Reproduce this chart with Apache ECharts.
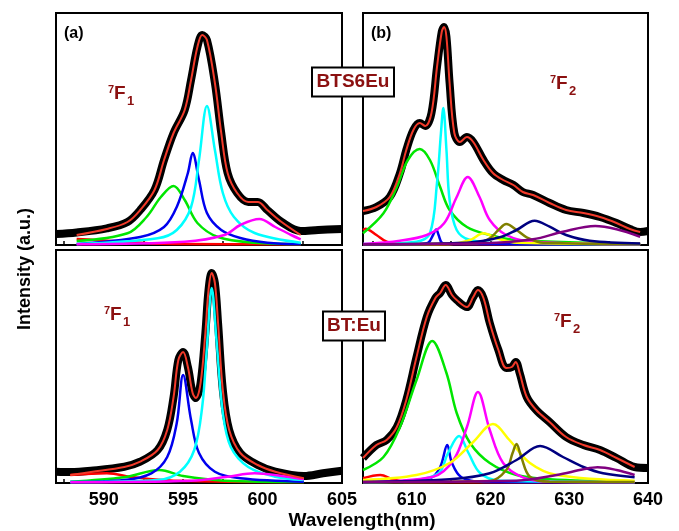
<!DOCTYPE html>
<html>
<head>
<meta charset="utf-8">
<script src="https://cdn.jsdelivr.net/npm/echarts@6/dist/echarts.min.js"></script>
<style>
  html, body { margin: 0; padding: 0; background: #fff; }
  #chart { width: 679px; height: 531px; }
</style>
</head>
<body>
<div id="chart"></div>
<script>
// tick labels
const leftTicks = [590, 595, 600, 605]
const rightTicks = [610, 620, 630, 640]
const leftMinor = [587.5, 590, 592.5, 595, 597.5, 600, 602.5]
const rightMinor = [605, 610, 615, 620, 625, 630, 635]

// (a) BTS6Eu 7F1  [wavelength, intensity]
const tlData = [[587,11],[588.3,12.5],[590.2,16.7],[591.5,23],[592.3,35],[593.2,55],[593.8,85],[594.4,112],[595.1,135],[595.5,165],[595.9,198],[596.2,210],[596.5,205],[597,162],[597.4,112],[597.8,72],[598.4,52],[599.1,43],[599.7,43],[600.3,35],[601.2,23],[602.4,14],[603.5,15],[605,16]]
const tlFit = [[588.3,10],[590.2,16],[591.5,23],[592.3,35],[593.2,55],[593.8,85],[594.4,112],[595.1,135],[595.5,165],[595.9,198],[596.2,210],[596.5,205],[597,162],[597.4,112],[597.8,72],[598.4,52],[599.1,43],[599.7,43],[600.3,35],[601.2,23],[602.4,10]]
const tlRed = [[588.3,6],[589.5,5],[591.5,3],[593,1.5],[595,1],[602.4,0.8]]
const tlGreen = [[588.3,4],[591.5,11.7],[592.7,28],[593.6,48],[594.4,59],[595.1,45],[595.9,22],[597.2,8],[599.5,2.3],[602.4,1]]
const tlBlue = [[588.3,1],[592.3,8],[593.8,18],[594.6,38],[595.3,72],[595.6,92],[596,65],[596.5,32],[597.4,15],[598.6,7],[600.3,2.3],[602.4,1]]
const tlCyan = [[588.3,1],[593.4,6.7],[594.6,15],[595.5,38],[596,85],[596.5,139],[597,95],[597.5,52],[598.2,28],[599.5,12],[602.4,2.3]]
const tlMagenta = [[588.3,0.8],[595.1,3.3],[597.6,10],[598.6,20],[599.8,26],[600.8,18],[601.8,10],[602.4,5.7]]

// (b) BTS6Eu 7F2
const trData = [[603.8,34],[605.5,38],[607.2,48],[608.5,72],[609.3,95],[610.2,115],[611,122],[611.7,119],[612.5,132],[613.2,178],[613.8,213],[614.1,218],[614.4,208],[614.8,162],[615.4,112],[616.1,103],[617,108],[617.8,103],[619.1,85],[620.3,72],[621.6,65],[622.9,60],[624.1,53],[625.4,50],[627.5,42],[629.6,35],[631.8,32],[633.9,28],[636,22],[637.7,16],[639,13],[640,14]]
const trFit = [[603.8,34],[605.5,38],[607.2,48],[608.5,72],[609.3,95],[610.2,115],[611,122],[611.7,119],[612.5,132],[613.2,178],[613.8,213],[614.1,218],[614.4,208],[614.8,162],[615.4,112],[616.1,103],[617,108],[617.8,103],[619.1,85],[620.3,72],[621.6,65],[622.9,60],[624.1,53],[625.4,50],[627.5,42],[629.6,35],[631.8,32],[633.9,28],[636,22],[637.7,16],[639,13]]
const trRed = [[603.8,15],[604.1,16.3],[605.5,10],[606.8,3.3],[608.5,1],[639,0.8]]
const trGreen = [[603.8,11.7],[606.4,31.7],[608.1,58],[609.5,85],[611,96],[612.3,85],[613.6,58],[614.8,35],[617,18],[619.9,10],[623.3,5],[639,1]]
const trCyan = [[603.8,1],[610.6,3.3],[612.3,11.7],[613.2,62],[613.7,112],[614,137],[614.4,95],[614.8,45],[615.7,15],[617.4,5],[623.3,1],[639,0.8]]
const trBlue = [[603.8,0.8],[611,1],[612.1,2.3],[612.7,10],[613.1,15.5],[613.4,10],[613.8,2.3],[614.5,1],[639,0.8]]
const trMagenta = [[603.8,1],[608.5,4.3],[611.9,10],[614.1,21.7],[615.7,48],[617.1,68],[618.6,48],[619.9,25],[622,10],[625.4,3.3],[639,1]]
const trYellow = [[603.8,0.8],[614.8,1],[617.4,5],[619.1,11.7],[620.8,6.7],[623.3,2.3],[639,1]]
const trOlive = [[603.8,0.8],[618.2,1.7],[619.9,6.7],[621,15],[622,21],[623.3,15],[624.6,7.7],[626.7,2.3],[639,1]]
const trNavy = [[603.8,0.8],[617,2.3],[621.2,7.7],[623.3,15],[625.6,24.3],[627.5,18.3],[629.6,10],[632.6,4.3],[639,1.5]]
const trPurple = [[603.8,0.8],[619.1,1.7],[625.4,5.7],[629.2,13.3],[633.3,19],[636,15.7],[639,8.3]]

// BT:Eu 7F1
const blData = [[587,11.3],[587.9,11],[589.2,12.3],[591.3,16.3],[592.3,21.3],[593.4,33],[594,53],[594.4,86],[594.7,123],[595,131],[595.3,116],[595.6,90],[595.8,85],[596.1,100],[596.4,150],[596.6,193],[596.8,210],[597,200],[597.2,160],[597.5,93],[597.9,53],[598.6,30],[599.7,18],[600.8,11.3],[602.6,7],[603.8,9.7],[605,12.3]]
const blFit = [[587.9,8],[589.2,11],[591.3,16],[592.3,21.3],[593.4,33],[594,53],[594.4,86],[594.7,123],[595,131],[595.3,116],[595.6,90],[595.8,85],[596.1,100],[596.4,150],[596.6,193],[596.8,210],[597,200],[597.2,160],[597.5,93],[597.9,53],[598.6,30],[599.7,18],[600.8,11.3],[602.6,4.7]]
const blRed = [[587.9,8],[590.2,9.7],[591.9,5.7],[594.4,2.3],[602.6,1]]
const blGreen = [[587.9,1.3],[591.3,5.7],[593.5,13],[595,7],[597.6,2.3],[602.6,1]]
const blBlue = [[587.9,1],[591.3,3],[593,9.7],[594,26],[594.6,60],[595,108],[595.5,63],[596,30],[597,11.3],[598.6,4.7],[602.6,1.3]]
const blCyan = [[587.9,1],[593.4,3],[594.8,11.3],[595.7,33],[596.2,76],[596.5,136],[596.8,195],[597.1,143],[597.5,70],[598,36],[599.1,16],[600.8,6.3],[602.6,3]]
const blMagenta = [[587.9,0.8],[595.5,2.3],[597.8,6.3],[599.5,9.7],[601.2,7],[602.6,3.7]]

// BT:Eu 7F2
const brData = [[603.8,25],[605.5,38],[606.8,43],[608.1,56],[609.3,83],[610.6,126],[611.9,166],[613,185],[613.6,190],[614.3,198],[615.1,188],[615.7,183],[617,176],[617.8,186],[618.4,193],[619.1,185],[619.9,160],[621,133],[622,115],[622.7,116],[623.2,121],[623.7,110],[624.6,86],[625.8,73],[627.5,61],[629.6,46],[631.8,38],[633.9,33],[636,25],[638.3,16],[640,15]]
const brFit = [[603.8,25],[605.5,38],[606.8,43],[608.1,56],[609.3,83],[610.6,126],[611.9,166],[613,185],[613.6,190],[614.3,198],[615.1,188],[615.7,183],[617,176],[617.8,186],[618.4,193],[619.1,185],[619.9,160],[621,133],[622,115],[622.7,116],[623.2,121],[623.7,110],[624.6,86],[625.8,73],[627.5,61],[629.6,46],[631.8,38],[633.9,33],[636,25],[638.3,16]]
const brRed = [[603.8,4.7],[606,8],[607.6,3.7],[609.3,1],[638.3,0.8]]
const brGreen = [[603.8,13],[606.4,26],[608.5,56],[610.6,103],[612.6,142],[614.4,110],[615.7,70],[617.4,40],[619.9,20],[623.3,8],[627.5,3.7],[638.3,1]]
const brBlue = [[603.8,0.8],[612.3,4.7],[613.6,16],[614.5,38],[615.1,20],[616.3,5.7],[619.1,1],[638.3,0.8]]
const brCyan = [[603.8,0.8],[610.6,3],[613.4,9.7],[614.6,30],[616,47],[617.2,30],[618.7,9.7],[621.2,2.3],[638.3,1]]
const brMagenta = [[603.8,1],[612.7,6.3],[615.3,23],[617,56],[618.4,91],[619.9,53],[621.6,20],[624.1,5.7],[627.5,1.3],[638.3,1]]
const brYellow = [[603.8,3],[610.6,8],[614.8,20],[617.8,41],[620.3,59],[622.4,43],[625,20],[628.4,8],[638.3,2.3]]
const brOlive = [[603.8,0.8],[619.9,2],[622,13],[622.8,30],[623.3,39],[623.9,26],[625,6.3],[627.5,1.3],[638.3,1]]
const brNavy = [[603.8,1],[614.8,3.7],[619.9,9.7],[623.3,23],[626.3,37],[629.2,26],[631.8,16],[634.3,9.7],[638.3,5.7]]
const brPurple = [[603.8,1],[623.3,2.3],[628.4,8],[631.8,13.7],[633.6,15.7],[636,13],[638.3,8]]

const COL = {
  red: '#ff0000', green: '#00e600', blue: '#0000ee', cyan: '#00ffff',
  magenta: '#ff00ff', yellow: '#ffff00', olive: '#808000', navy: '#000080', purple: '#800080'
}
const FONT = '"Liberation Sans", Arial, sans-serif'
const DARKRED = '#8b1010'

const myChart = echarts.init(document.getElementById('chart'))

const grids = [
  { left: 56, top: 13, width: 286, height: 232 },
  { left: 363, top: 13, width: 285, height: 232 },
  { left: 56, top: 250, width: 286, height: 233 },
  { left: 363, top: 250, width: 285, height: 233 }
].map(g => Object.assign(g, { show: true, borderColor: '#000', borderWidth: 2, backgroundColor: '#fff' }))

function xAxis (idx, left, showLabel) {
  return {
    type: 'value', gridIndex: idx,
    min: left ? 587 : 603.8, max: left ? 605 : 640,
    axisLine: { show: false },
    splitLine: { show: false },
    axisTick: { show: true, inside: true, length: 4, lineStyle: { color: '#000', width: 1.5 },
      customValues: left ? leftMinor : rightMinor },
    axisLabel: { show: showLabel, customValues: left ? leftTicks : rightTicks, margin: 8,
      fontFamily: FONT, fontWeight: 'bold', fontSize: 18, color: '#000' }
  }
}
function yAxis (idx, max) {
  return { type: 'value', gridIndex: idx, min: 0, max: max, show: false }
}

function line (idx, data, color, width) {
  return {
    type: 'line', xAxisIndex: idx, yAxisIndex: idx, data: data,
    showSymbol: false, symbol: 'none', smooth: 0.35, clip: true, silent: true,
    lineStyle: { color: color, width: width }
  }
}

const panels = [
  { data: tlData, fit: tlFit, comps: [[tlRed, 'red'], [tlGreen, 'green'], [tlBlue, 'blue'], [tlCyan, 'cyan'], [tlMagenta, 'magenta']] },
  { data: trData, fit: trFit, comps: [[trRed, 'red'], [trGreen, 'green'], [trCyan, 'cyan'], [trBlue, 'blue'], [trMagenta, 'magenta'], [trYellow, 'yellow'], [trOlive, 'olive'], [trNavy, 'navy'], [trPurple, 'purple']] },
  { data: blData, fit: blFit, comps: [[blRed, 'red'], [blGreen, 'green'], [blBlue, 'blue'], [blCyan, 'cyan'], [blMagenta, 'magenta']] },
  { data: brData, fit: brFit, comps: [[brRed, 'red'], [brGreen, 'green'], [brBlue, 'blue'], [brCyan, 'cyan'], [brMagenta, 'magenta'], [brYellow, 'yellow'], [brOlive, 'olive'], [brNavy, 'navy'], [brPurple, 'purple']] }
]

const series = []
panels.forEach((p, i) => {
  series.push(line(i, p.data, '#000', 8))
  p.comps.forEach(c => series.push(line(i, c[0], COL[c[1]], 2.5)))
  series.push(line(i, p.fit, '#f23a2a', 2))
})

function txt (x, y, s, size, color, extra) {
  return Object.assign({
    type: 'text', x: x, y: y, z: 100,
    style: { text: s, fontFamily: FONT, fontWeight: 'bold', fontSize: size, fill: color, verticalAlign: 'top' }
  }, extra || {})
}
// 7F_J term symbol, y = top of the F line box
function term (x, y, sub) {
  return [
    txt(x, y, '7', 11, DARKRED),
    txt(x + 6, y, 'F', 19, DARKRED),
    txt(x + 19, y + 11, sub, 13, DARKRED)
  ]
}
function badge (cx, cy, w, h, s) {
  return [
    { type: 'rect', z: 99, shape: { x: cx - w / 2, y: cy - h / 2, width: w, height: h },
      style: { fill: '#fff', stroke: '#000', lineWidth: 2 } },
    txt(cx, cy, s, 19, DARKRED, { style: { text: s, fontFamily: FONT, fontWeight: 'bold', fontSize: 19, fill: DARKRED, align: 'center', verticalAlign: 'middle' } })
  ]
}

const graphic = [].concat(
  txt(64, 26, '(a)', 16, '#000'),
  txt(371, 26, '(b)', 16, '#000'),
  term(108, 84, '1'),
  term(104, 305, '1'),
  term(550, 74, '2'),
  term(554, 312, '2'),
  badge(353, 82, 82, 29, 'BTS6Eu'),
  badge(354, 326, 62, 29, 'BT:Eu'),
  txt(362, 521, 'Wavelength(nm)', 19, '#000', { style: { text: 'Wavelength(nm)', fontFamily: FONT, fontWeight: 'bold', fontSize: 19, fill: '#000', align: 'center', verticalAlign: 'middle' } }),
  { type: 'text', x: 25, y: 269, rotation: Math.PI / 2, z: 100,
    style: { text: 'Intensity (a.u.)', fontFamily: FONT, fontWeight: 'bold', fontSize: 18, fill: '#000', align: 'center', verticalAlign: 'middle' } }
)

const option = {
  backgroundColor: '#fff',
  animation: false,
  grid: grids,
  xAxis: [xAxis(0, true, false), xAxis(1, false, false), xAxis(2, true, true), xAxis(3, false, true)],
  yAxis: [yAxis(0, 232), yAxis(1, 232), yAxis(2, 233), yAxis(3, 233)],
  series: series,
  graphic: graphic
}
myChart.setOption(option)
</script>
</body>
</html>
